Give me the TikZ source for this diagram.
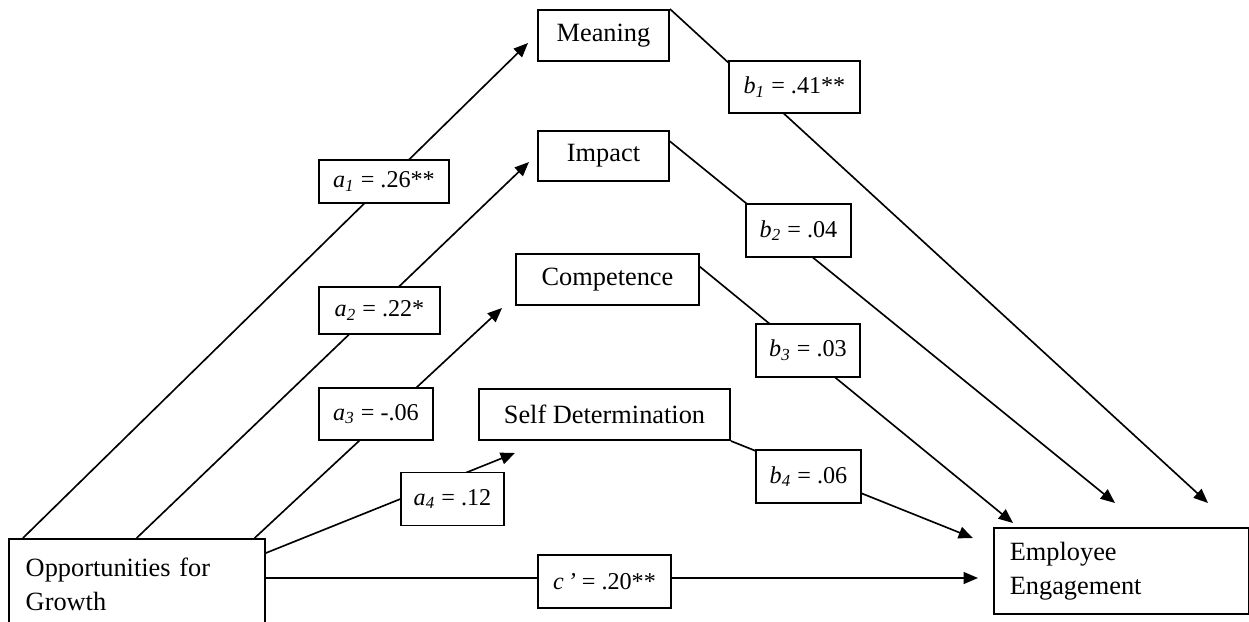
\documentclass[tikz,border=0pt]{standalone}
\usepackage{fontspec}
\setmainfont{Liberation Serif}
\usetikzlibrary{positioning, arrows.meta, calc}

\begin{document}
\begin{tikzpicture}[x=0.016cm, y=-0.016cm,
	box/.style={draw, line width=0.8pt, font=\fontsize{12}{15.5}\selectfont, inner sep=0pt},
	coef/.style={draw, fill=white, line width=0.8pt, font=\fontsize{11}{13}\selectfont, inner sep=0pt},
	linkarrow/.style={line width=0.75pt, -{Triangle[length=2.3mm, width=1.9mm]}}]
	\useasboundingbox (0,0) rectangle (1249,622);

	% Constructs
	\node[box, minimum width=2.10cm, minimum height=0.82cm] (meaning) at (603.5,35.5) {Meaning};
	\node[box, minimum width=2.10cm, minimum height=0.80cm] (impact) at (603.5,156) {Impact};
	\node[box, minimum width=2.93cm, minimum height=0.82cm] (competence) at (607.5,279.5) {Competence};
	\node[box, minimum width=4.02cm, minimum height=0.82cm] (selfdet) at (604.5,414.5) {Self Determination};
	\node[box, anchor=north west, minimum width=4.10cm, minimum height=1.46cm, text width=3.56cm, align=left] (opp) at (8,538) {Opportunities for\\Growth};
	\node[box, anchor=north west, minimum width=4.08cm, minimum height=1.38cm, text width=3.57cm, align=left] (engage) at (993,527) {Employee\\Engagement};

	% Arrow ends
	\coordinate (tipM) at (528,43);
	\coordinate (tipI) at (529,162);
	\coordinate (tipC) at (502,308);
	\coordinate (tipS) at (515,453);
	\coordinate (tipB1) at (1208,503);
	\coordinate (tipB2) at (1115,503);
	\coordinate (tipB3) at (1013,523);
	\coordinate (tipB4) at (973,538);
	\coordinate (tipE) at (978,578);

	% a paths
	\draw[linkarrow] ([xshift=0.24cm]opp.north west) -- (tipM);
	\draw[linkarrow] ([xshift=2.06cm]opp.north west) -- (tipI);
	\draw[linkarrow] ([xshift=-0.18cm]opp.north east) -- (tipC);
	\draw[linkarrow] ([yshift=-0.24cm]opp.north east) -- (tipS);
	% b paths
	\draw[linkarrow] (meaning.north east) -- (tipB1);
	\draw[linkarrow] ([yshift=-0.18cm]impact.north east) -- (tipB2);
	\draw[linkarrow] ([yshift=-0.22cm]competence.north east) -- (tipB3);
	\draw[linkarrow] (selfdet.south east) -- (tipB4);
	% direct path
	\draw[linkarrow] ([yshift=-0.64cm]opp.north east) -- (tipE);

	% Coefficients
	\node[coef, minimum width=2.08cm, minimum height=0.69cm] (a1) at (384,181.5) {\textit{a}\textsubscript{\textit{1}} = .26**};
	\node[coef, minimum width=1.94cm, minimum height=0.75cm] (a2) at (379.5,310.5) {\textit{a}\textsubscript{\textit{2}} = .22*};
	\node[coef, minimum width=1.82cm, minimum height=0.83cm] (a3) at (376,414) {\textit{a}\textsubscript{\textit{3}} = -.06};
	\node[coef, minimum width=1.65cm, minimum height=0.85cm] (a4) at (452.5,499) {\textit{a}\textsubscript{\textit{4}} = .12};
	\node[coef, minimum width=2.10cm, minimum height=0.83cm] (b1) at (794.5,87) {\textit{b}\textsubscript{\textit{1}} = .41**};
	\node[coef, minimum width=1.68cm, minimum height=0.85cm] (b2) at (798.5,230.5) {\textit{b}\textsubscript{\textit{2}} = .04};
	\node[coef, minimum width=1.66cm, minimum height=0.85cm] (b3) at (808,350.5) {\textit{b}\textsubscript{\textit{3}} = .03};
	\node[coef, minimum width=1.68cm, minimum height=0.85cm] (b4) at (808.5,476.5) {\textit{b}\textsubscript{\textit{4}} = .06};
	\node[coef, minimum width=2.13cm, minimum height=0.85cm] (cprime) at (604.5,581.5) {\textit{c\,'} = .20**};
\end{tikzpicture}
\end{document}
